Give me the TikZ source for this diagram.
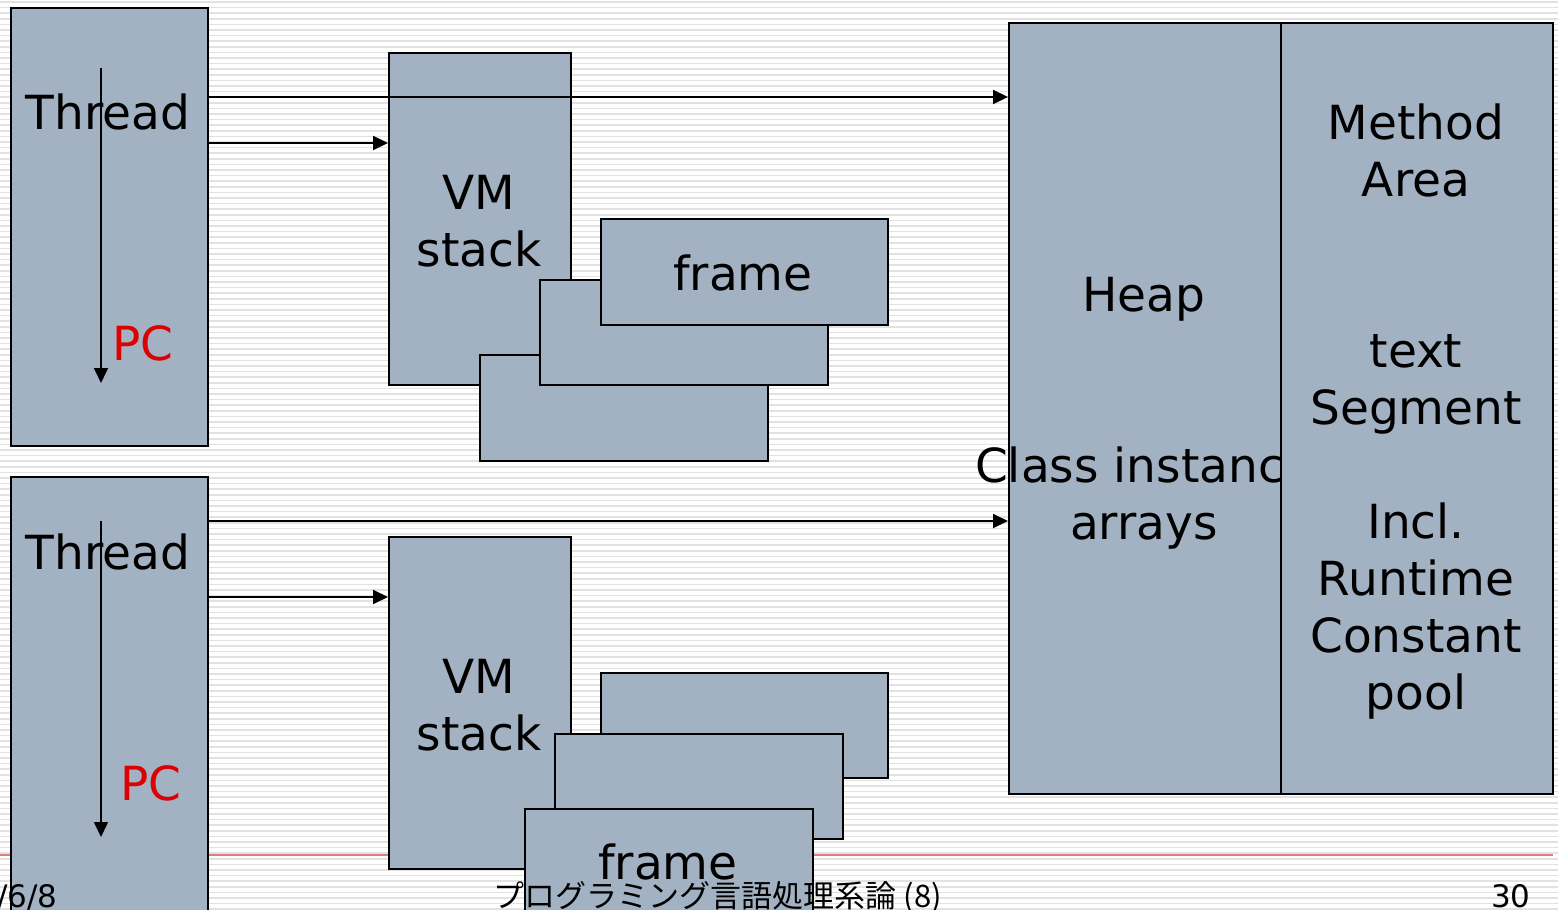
\documentclass[tikz,border=0pt]{standalone}
\usepackage{fontspec}
\setmainfont{DejaVu Sans}
\newfontfamily\jpfont{Noto Sans CJK JP}
\usetikzlibrary{arrows.meta}
\definecolor{boxfill}{HTML}{A3B2C2}
\definecolor{pcred}{RGB}{220,0,0}
\definecolor{stripe}{HTML}{E2E2E2}
\definecolor{rule}{HTML}{E07C7C}
\tikzset{
  blk/.style={draw=black, line width=1pt, fill=boxfill, rectangle, inner sep=0pt, anchor=north west},
  big/.style={font=\fontsize{23.5}{28.5}\selectfont, align=center, inner sep=0pt, text=black},
  pclabel/.style={font=\fontsize{23.5}{28.5}\selectfont, text=pcred, inner sep=0pt},
  arr/.style={line width=1pt, -{Triangle[length=7.5pt,width=7pt]}},
  pcarr/.style={line width=0.8pt, -{Triangle[length=7.5pt,width=7pt]}},
  foot/.style={font=\fontsize{15.5}{18}\selectfont, inner sep=0pt, anchor=base},
}
\begin{document}
\begin{tikzpicture}[x=0.5pt,y=-0.5pt]
\useasboundingbox (0,0) rectangle (1558,910);
\clip (0,0) rectangle (1558,910);
% background
\fill[white] (0,0) rectangle (1558,910);
\foreach \i in {0,...,163} {
  \draw[stripe, line width=0.8pt] (0,2+5.6*\i) -- (1558,2+5.6*\i);
}
\draw[rule, line width=1.2pt] (0,855) -- (1553,855);

% thread boxes
\node[blk, minimum width=197*0.5pt, minimum height=438*0.5pt] (thread1) at (10,7) {};
\node[blk, minimum width=197*0.5pt, minimum height=474*0.5pt] (thread2) at (10,476) {};

% VM stacks
\node[blk, minimum width=182*0.5pt, minimum height=332*0.5pt] (vm1) at (388,52) {};
\node[blk, minimum width=182*0.5pt, minimum height=332*0.5pt] (vm2) at (388,536) {};
\node[big] (vm1t) at (479,221) {VM\\stack};
\node[big] (vm2t) at (479,705) {VM\\stack};

% frames (top)
\node[blk, minimum width=288*0.5pt, minimum height=106*0.5pt] (f1a) at (479,354) {};
\node[blk, minimum width=288*0.5pt, minimum height=105*0.5pt] (f1b) at (539,279) {};
\node[blk, minimum width=287*0.5pt, minimum height=106*0.5pt] (f1c) at (600,218) {};
\node[big] (f1t) at (743,273) {frame};

% frames (bottom)
\node[blk, minimum width=287*0.5pt, minimum height=105*0.5pt] (f2a) at (600,672) {};
\node[blk, minimum width=288*0.5pt, minimum height=105*0.5pt] (f2b) at (554,733) {};
\node[blk, minimum width=288*0.5pt, minimum height=110*0.5pt] (f2c) at (524,808) {};
\node[big] (f2t) at (668,862) {frame};

% heap and method area
\node[blk, minimum width=272*0.5pt, minimum height=771*0.5pt] (heap) at (1008,22) {};
\node[big] (heapt) at (1144,413) {Heap\\~\\~\\Class instance\\arrays};
\node[blk, minimum width=272*0.5pt, minimum height=771*0.5pt] (meth) at (1280,22) {};
\node[big] (metht) at (1416,412) {Method\\Area\\~\\~\\text\\Segment\\~\\Incl.\\Runtime\\Constant\\pool};

% thread labels
\node[big] (th1t) at (108,112) {Thread};
\node[big] (th2t) at (108,552) {Thread};
\node[pclabel] (pc1) at (143,343) {PC};
\node[pclabel] (pc2) at (151,783) {PC};

% coordinates for connectors
\coordinate (a1) at (0,97);
\coordinate (a2) at (0,143);
\coordinate (b1) at (0,521);
\coordinate (b2) at (0,597);
\coordinate (pc1s) at (101,68);
\coordinate (pc1e) at (101,383);
\coordinate (pc2s) at (101,521);
\coordinate (pc2e) at (101,837);

% connectors
\draw[arr] (thread1.east |- a1) -- (heap.west |- a1);
\draw[arr] (thread1.east |- a2) -- (vm1.west |- a2);
\draw[arr] (thread2.east |- b1) -- (heap.west |- b1);
\draw[arr] (thread2.east |- b2) -- (vm2.west |- b2);
\draw[pcarr] (pc1s) -- (pc1e);
\draw[pcarr] (pc2s) -- (pc2e);

% footer
\node[foot, anchor=base east] (date) at (58,907) {/6/8};
\node[foot] (title) at (718,907) {\jpfont プログラミング言語処理系論 (8)};
\node[foot, anchor=base east] (page) at (1531,907) {30};
\end{tikzpicture}
\end{document}
